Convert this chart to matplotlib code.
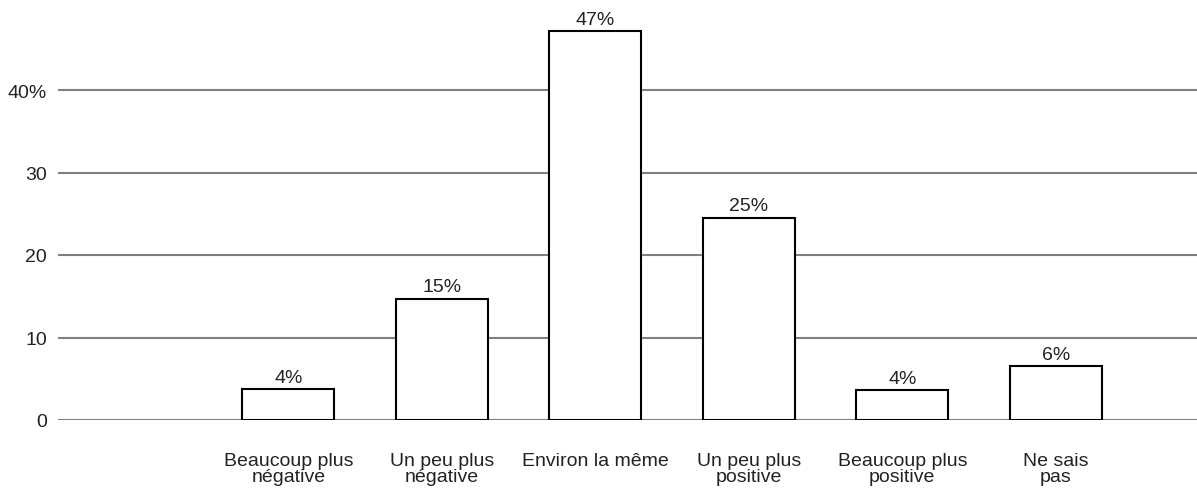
import matplotlib
matplotlib.use("Agg")
import matplotlib.pyplot as plt

# 데이터
categories = ["", "Beaucoup plus\nnégative", "Un peu plus\nnégative", "Environ la même",
              "Un peu plus\npositive", "Beaucoup plus\npositive", "Ne sais\npas"]
values = [0, 3.7, 14.7, 47.1, 24.5, 3.6, 6.5]
value_labels = ["", "4%", "15%", "47%", "25%", "4%", "6%"]
yticks = [0, 10, 20, 30, 40]
ytick_labels = ["0", "10", "20", "30", "40%"]

plt.rcParams["font.family"] = ["Liberation Sans", "DejaVu Sans"]
fs = 14

W, H = 1197, 489
fig = plt.figure(figsize=(W / 100, H / 100), dpi=100)
ax = fig.add_axes([58 / W, 68 / H, 1 - 58 / W, (421 - 8.5) / H])

x = list(range(len(categories)))
ax.bar(x[1:], values[1:], width=0.6, color="white", edgecolor="black",
       linewidth=1.5, zorder=3)

for xi, v, lab in zip(x[1:], values[1:], value_labels[1:]):
    ax.text(xi, v + 0.45, lab, ha="center", va="bottom", fontsize=fs, color="#222222")

ax.set_xlim(-0.5, 6.92)
ax.set_ylim(0, 50)
ax.set_yticks(yticks)
ax.set_yticklabels(ytick_labels, fontsize=fs, color="#222222")
ax.set_xticks(x)
ax.set_xticklabels(categories, fontsize=fs, color="#222222", linespacing=0.92)
ax.tick_params(axis="y", length=0, pad=8)
ax.tick_params(axis="x", length=0, pad=23)
ax.grid(axis="y", color="#808080", linewidth=1.5, zorder=0)

for s in ax.spines.values():
    s.set_visible(False)

fig.savefig("out.png", dpi=100)
